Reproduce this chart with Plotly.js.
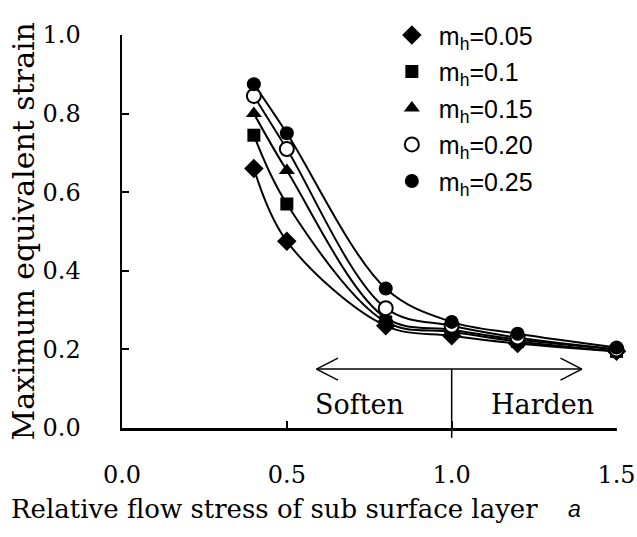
<!DOCTYPE html>
<html>
<head>
<meta charset="utf-8">
<script src="https://cdn.plot.ly/plotly-3.0.1.min.js"></script>
<style>html,body{margin:0;padding:0;background:#fff;}</style>
</head>
<body>
<div id="chart" style="width:637px;height:537px;"></div>
<script>
// Data
const alpha = [0.4, 0.5, 0.8, 1.0, 1.2, 1.5];
const mh005 = [0.66, 0.475, 0.26, 0.235, 0.215, 0.195];
const mh010 = [0.745, 0.57, 0.27, 0.245, 0.22, 0.195];
const mh015 = [0.80, 0.655, 0.28, 0.25, 0.225, 0.20];
const mh020 = [0.845, 0.71, 0.305, 0.26, 0.23, 0.20];
const mh025 = [0.875, 0.75, 0.355, 0.27, 0.24, 0.205];
const seriesNames = ['m<sub>h</sub>=0.05', 'm<sub>h</sub>=0.1', 'm<sub>h</sub>=0.15', 'm<sub>h</sub>=0.20', 'm<sub>h</sub>=0.25'];
const xTickVals = [0, 0.5, 1.0, 1.5];
const xTickText = ['0.0', '0.5', '1.0', '1.5'];
const yTickVals = [0, 0.2, 0.4, 0.6, 0.8, 1.0];
const yTickText = ['0.0', '0.2', '0.4', '0.6', '0.8', '1.0'];

const series = [mh005, mh010, mh015, mh020, mh025];
const markers = [
  {symbol: 'diamond', size: 15, color: 'black'},
  {symbol: 'square', size: 13, color: 'black'},
  {symbol: 'triangle-up', size: 14, color: 'black'},
  {symbol: 'circle', size: 14, color: 'white', line: {color: 'black', width: 2}},
  {symbol: 'circle', size: 14, color: 'black'}
];

const traces = [];
series.forEach((ys) => {
  traces.push({x: alpha, y: ys, mode: 'lines', line: {color: 'black', width: 2, shape: 'spline', smoothing: 1},
    showlegend: false, hoverinfo: 'skip', cliponaxis: false});
});
series.forEach((ys, i) => {
  traces.push({x: alpha, y: ys, mode: 'markers', name: seriesNames[i], marker: markers[i],
    legendgroup: 'g' + i, showlegend: true, cliponaxis: false});
});

const serif = 'DejaVu Serif, serif';
const layout = {
  width: 637, height: 537,
  margin: {l: 122, r: 20, t: 20, b: 109, pad: 0},
  paper_bgcolor: 'white', plot_bgcolor: 'white',
  showlegend: true,
  legend: {x: 0.531, y: 1.058, xanchor: 'left', yanchor: 'top', tracegroupgap: 1,
    font: {family: 'Liberation Sans, Arial, sans-serif', size: 25, color: 'black'},
    bgcolor: 'rgba(0,0,0,0)', itemwidth: 44},
  xaxis: {range: [0, 1.5015], tickvals: xTickVals, ticktext: xTickText, ticks: 'inside', ticklen: 7, tickwidth: 2,
    tickcolor: 'black', showline: true, linecolor: 'black', linewidth: 2.5, showgrid: false, zeroline: false,
    tickfont: {family: serif, size: 24, color: 'black'}, ticklabelstandoff: 24, ticklabeloverflow: 'allow',
    fixedrange: true},
  yaxis: {range: [0, 1.0], tickvals: yTickVals, ticktext: yTickText, ticks: 'inside', ticklen: 7, tickwidth: 2,
    tickcolor: 'black', showline: true, linecolor: 'black', linewidth: 2.5, showgrid: false, zeroline: false,
    tickfont: {family: serif, size: 24, color: 'black'}, ticklabelstandoff: 34, ticklabeloverflow: 'allow',
    fixedrange: true},
  shapes: [
    {type: 'line', xref: 'x', yref: 'y', x0: 0.59, x1: 1.395, y0: 0.15, y1: 0.15, line: {color: 'black', width: 1.5}},
    {type: 'line', xref: 'x', yref: 'y', x0: 0.59, x1: 0.655, y0: 0.15, y1: 0.178, line: {color: 'black', width: 1.5}},
    {type: 'line', xref: 'x', yref: 'y', x0: 0.59, x1: 0.655, y0: 0.15, y1: 0.122, line: {color: 'black', width: 1.5}},
    {type: 'line', xref: 'x', yref: 'y', x0: 1.395, x1: 1.33, y0: 0.15, y1: 0.178, line: {color: 'black', width: 1.5}},
    {type: 'line', xref: 'x', yref: 'y', x0: 1.395, x1: 1.33, y0: 0.15, y1: 0.122, line: {color: 'black', width: 1.5}},
    {type: 'line', xref: 'x', yref: 'paper', x0: 1.0, x1: 1.0, y0: 0.15, y1: -0.025, line: {color: 'black', width: 1.5}}
  ],
  annotations: [
    {text: 'Soften', xref: 'x', yref: 'y', x: 0.72, y: 0.06, showarrow: false,
      font: {family: serif, size: 27, color: 'black'}},
    {text: 'Harden', xref: 'x', yref: 'y', x: 1.275, y: 0.06, showarrow: false,
      font: {family: serif, size: 27, color: 'black'}},
    {text: 'Relative flow stress of sub surface layer', xref: 'paper', yref: 'paper', x: -0.228, y: -0.206,
      xanchor: 'left', yanchor: 'middle', showarrow: false, font: {family: serif, size: 26, color: 'black'}},
    {text: '<i>a</i>', xref: 'paper', yref: 'paper', x: (566 - 122) / 495, y: -0.206,
      xanchor: 'left', yanchor: 'middle', showarrow: false, font: {family: 'Liberation Sans, Arial, sans-serif', size: 23, color: 'black'}},
    {text: 'Maximum equivalent strain', xref: 'paper', yref: 'paper', x: -0.2, y: 0.5, textangle: -90,
      xanchor: 'center', yanchor: 'middle', showarrow: false, font: {family: serif, size: 30, color: 'black'}}
  ]
};

Plotly.newPlot('chart', traces, layout, {displayModeBar: false, staticPlot: true});
</script>
</body>
</html>
